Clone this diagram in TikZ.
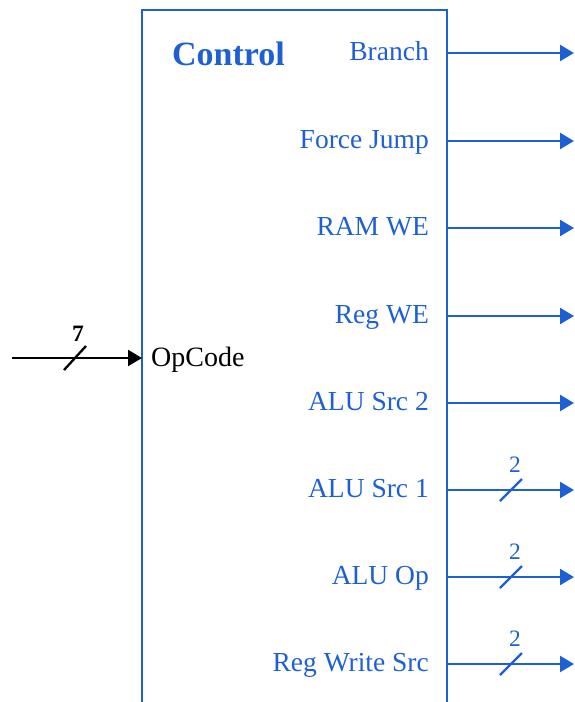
\documentclass[tikz,border=0pt]{standalone}
\usepackage{fontspec}
\setmainfont{Liberation Serif}
\usetikzlibrary{arrows.meta}
\definecolor{ctlblue}{RGB}{30,96,212}
\tikzset{
  boxline/.style={draw=ctlblue, line width=2.3pt},
  sigline/.style={draw=ctlblue, line width=2.3pt, -{Triangle[length=14pt,width=16pt]}},
  inline/.style={draw=black, line width=2.3pt, -{Triangle[length=14pt,width=16pt]}},
  siglabel/.style={anchor=base east, text=ctlblue, font=\fontsize{27.5}{30}\selectfont, inner sep=0pt},
  buswidth/.style={anchor=base, text=ctlblue, font=\fontsize{23.5}{24}\selectfont, inner sep=0pt},
  slash/.style={line width=2.3pt}
}
\begin{document}
\begin{tikzpicture}[x=1pt,y=-1pt]
\useasboundingbox (0,0) rectangle (574,702);
\clip (0,0) rectangle (574,702);

% block outline, open at the bottom
\draw[boxline] (142,710) -- (142,10) -- (447,10) -- (447,710);
\node[anchor=base west, text=ctlblue, inner sep=0pt, font=\fontsize{34}{36}\selectfont\bfseries] (title) at (172,65) {Control};

% input bus
\coordinate (inA) at (12,358);
\coordinate (inB) at (142,358);
\draw[inline] (inA) -- (inB);
\draw[slash] (64,370) -- (86,346);
\node[anchor=base, inner sep=0pt, font=\fontsize{23.5}{24}\selectfont\bfseries] (w7) at (78,341) {7};
\node[anchor=base west, inner sep=0pt, font=\fontsize{28}{30}\selectfont] (opc) at (151,366) {OpCode};

% output signals
\foreach \i/\yy/\txt in {1/53/Branch, 2/141/Force Jump, 3/228/RAM WE, 4/316/Reg WE,
                         5/403/ALU Src 2, 6/490/ALU Src 1, 7/577/ALU Op, 8/664/Reg Write Src} {
  \node[siglabel] (lab\i) at (429,\yy+7) {\txt};
  \coordinate (os\i) at (447,\yy);
  \coordinate (ot\i) at (574,\yy);
  \draw[sigline] (os\i) -- (ot\i);
}

% two-bit buses
\foreach \i/\yy in {6/490, 7/577, 8/664} {
  \draw[slash, draw=ctlblue] (500,\yy+11) -- (522,\yy-11);
  \node[buswidth] (w\i) at (515,\yy-18) {2};
}
\end{tikzpicture}
\end{document}
